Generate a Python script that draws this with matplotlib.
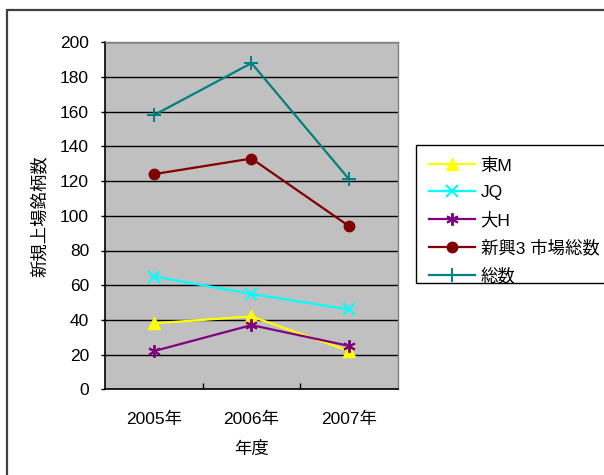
import matplotlib
matplotlib.use("Agg")
import matplotlib.pyplot as plt
from matplotlib.patches import Rectangle

plt.rcParams['font.family'] = ['Liberation Sans', 'Noto Sans CJK JP', 'DejaVu Sans']

years = ['2005年', '2006年', '2007年']
higashi_m = [38, 42, 22]
jq = [65, 55, 46]
dai_h = [22, 37, 25]
shinko3 = [124, 133, 94]
soukei = [158, 188, 121]
series_names = ['東M', 'JQ', '大H', '新興3 市場総数', '総数']
y_ticks = [0, 20, 40, 60, 80, 100, 120, 140, 160, 180, 200]

fig = plt.figure(figsize=(6.04, 4.75), dpi=100)
# outer chart border (partially cropped)
fig.patches.append(Rectangle((7/604, -0.1), 2.0, (1 - 10/475) + 0.1, transform=fig.transFigure,
                             fill=False, edgecolor='#404040', linewidth=1.6, zorder=0))
# legend box (extends past the right edge)
fig.patches.append(Rectangle((416/604, 1 - 283/475), 1.0, (283 - 145)/475, transform=fig.transFigure,
                             fill=True, facecolor='white', edgecolor='black', linewidth=1.0, zorder=1))

ax = fig.add_axes([105/604, 1 - 389.3/475, (398 - 105)/604, (389.3 - 42.3)/475])
ax.set_facecolor('#C0C0C0')

x = range(len(years))
fs = 12.5
ax.plot(x, higashi_m, color='#FFFF00', marker='^', markersize=8.5, linewidth=1.6, label=series_names[0], zorder=3)
ax.plot(x, jq, color='#00FFFF', marker='x', markersize=9, markeredgewidth=1.6, linewidth=1.6, label=series_names[1], zorder=3)
ax.plot(x, dai_h, color='#800080', marker=(6, 2, 0), markersize=9, markeredgewidth=1.4, linewidth=1.6, label=series_names[2], zorder=4)
ax.plot(x, shinko3, color='#800000', marker='o', markersize=7.5, linewidth=1.6, label=series_names[3], zorder=3)
ax.plot(x, soukei, color='#008080', marker='+', markersize=10, markeredgewidth=1.4, linewidth=1.6, label=series_names[4], zorder=3)

ax.set_xlim(-0.5, 2.5)
ax.set_ylim(0, 200)
ax.set_yticks(y_ticks)
ax.set_yticklabels([str(v) for v in y_ticks], fontsize=fs)
ax.set_xticks([0.5, 1.5], minor=False)
ax.set_xticklabels([])
ax.set_xticks(list(x), minor=True)
ax.set_xticklabels(years, minor=True, fontsize=fs)
ax.tick_params(axis='x', which='major', direction='in', length=4, width=1, color='black')
ax.tick_params(axis='x', which='minor', length=0, pad=16)
ax.tick_params(axis='y', direction='out', length=3, width=1, pad=8.5)
ax.grid(axis='y', color='black', linewidth=1.0)
ax.set_axisbelow(True)
for s in ['left', 'bottom']:
    ax.spines[s].set_color('black')
    ax.spines[s].set_linewidth(1.2)
for s in ['top', 'right']:
    ax.spines[s].set_color('#808080')
    ax.spines[s].set_linewidth(1.0)

ax.set_xlabel('年度', fontsize=fs, labelpad=10)
ax.set_ylabel('新規上場銘柄数', fontsize=fs, labelpad=9)

leg = fig.legend(loc='upper left', fontsize=fs,
                 frameon=False, handlelength=2.7,
                 handletextpad=0.3, labelspacing=0.66, borderpad=0.72, borderaxespad=0)
leg.set_bbox_to_anchor((416/604, 1 - 145/475), transform=fig.transFigure)
leg.set_zorder(2)

fig.savefig('out.png', dpi=100)
